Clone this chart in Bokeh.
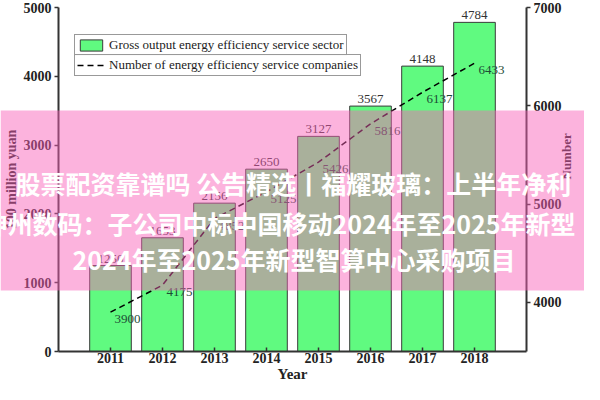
import math
from bokeh.plotting import figure
from bokeh.layouts import column
from bokeh.models import (Range1d, LinearAxis, ColumnDataSource, LabelSet, Legend, LegendItem,
                          FixedTicker)
from bokeh.core.properties import value
from bokeh.embed import file_html
from bokeh.resources import INLINE

years = [2011, 2012, 2013, 2014, 2015, 2016, 2017, 2018]
gross_output = [1250, 1653, 2156, 2650, 3127, 3567, 4148, 4784]
companies = [3900, 4175, 4852, 5125, 5426, 5816, 6137, 6433]
left_ticks = [0, 1000, 2000, 3000, 4000, 5000]
right_ticks = [4000, 5000, 6000, 7000]
bar_name = "Gross output energy efficiency service sector"
line_name = "Number of energy efficiency service companies"
overlay_lines = [
    "股票配资靠谱吗 公告精选丨福耀玻璃：上半年净利",
    "神州数码：子公司中标中国移动2024年至2025年新型",
    "2024年至2025年新型智算中心采购项目",
]

SERIF = "Liberation Serif"
CJK = "Noto Sans CJK SC"
W, H = 584, 384

src = ColumnDataSource(dict(
    year=years, gross=gross_output, comp=companies,
    gross_txt=[str(v) for v in gross_output],
    comp_txt=[str(v) for v in companies],
))

p = figure(width=W, height=H, output_backend="svg", toolbar_location=None,
           x_range=Range1d(2010, 2019), y_range=Range1d(0, 5000),
           min_border_left=50, min_border_right=40, min_border_top=7, min_border_bottom=30)
p.outline_line_color = None
p.grid.visible = False
p.background_fill_color = "white"
p.border_fill_color = "white"

p.extra_y_ranges = {"num": Range1d(3500, 7000)}

bars = p.vbar(x="year", top="gross", width=0.8, source=src,
              fill_color="#60FA80", line_color="#3a3a3a", line_width=1)
line = p.line(x="year", y="comp", source=src, y_range_name="num",
              line_color="black", line_width=1.5, line_dash="6 4")

p.add_layout(LabelSet(x="year", y="gross", text="gross_txt", source=src,
                      text_align="center", text_baseline="bottom", y_offset=3,
                      text_font=value(SERIF), text_font_size="13px", text_color="#333333"))
p.add_layout(LabelSet(x="year", y="comp", text="comp_txt", source=src, y_range_name="num",
                      text_align="left", text_baseline="top", x_offset=4, y_offset=-3,
                      text_font=value(SERIF), text_font_size="13px", text_color="#1d4d36"))

def style_axis(ax):
    ax.axis_line_color = "#333333"
    ax.axis_line_width = 2
    ax.major_tick_line_color = "#333333"
    ax.major_tick_line_width = 1.5
    ax.minor_tick_line_color = None
    ax.major_label_text_font = SERIF
    ax.major_label_text_font_size = "14px"
    ax.major_label_text_font_style = "bold"
    ax.major_label_text_color = "#222222"
    ax.axis_label_text_font = SERIF
    ax.axis_label_text_font_style = "bold"
    ax.axis_label_text_color = "#222222"

yl = p.yaxis[0]
style_axis(yl)
yl.ticker = FixedTicker(ticks=left_ticks)
yl.major_tick_in = 0
yl.major_tick_out = 4
yl.major_label_standoff = 3
yl.axis_label = "100 million yuan"
yl.axis_label_text_font_size = "14px"
yl.axis_label_standoff = 2

xa = p.xaxis[0]
style_axis(xa)
xa.ticker = FixedTicker(ticks=years)
xa.major_tick_in = 4
xa.major_tick_out = 0
xa.major_label_standoff = 1
xa.axis_label = "Year"
xa.axis_label_text_font_size = "15px"
xa.axis_label_standoff = 0

yr = LinearAxis(y_range_name="num", ticker=FixedTicker(ticks=right_ticks))
style_axis(yr)
yr.major_tick_in = 0
yr.major_tick_out = 4
yr.major_label_standoff = 3
yr.axis_label = "Number"
yr.axis_label_text_font_size = "13px"
yr.axis_label_standoff = 2
if hasattr(yr, "axis_label_orientation"):
    yr.axis_label_orientation = math.pi / 2
p.add_layout(yr, "right")

leg_kw = dict(border_line_color="#333333", border_line_width=1, padding=2, spacing=0, margin=0,
              glyph_width=28, glyph_height=14, label_standoff=4, label_height=14,
              label_text_font=SERIF, label_text_font_size="13px", label_text_color="#222222")
leg1 = Legend(items=[LegendItem(label=bar_name, renderers=[bars])], location=(16, 295), **leg_kw)
leg2 = Legend(items=[LegendItem(label=line_name, renderers=[line])], location=(16, 275), **leg_kw)
p.add_layout(leg1, "center")
p.add_layout(leg2, "center")

# transparent overlay figure carrying the pink banner (covers whole canvas)
ov = figure(width=W, height=H, output_backend="svg", toolbar_location=None,
            x_range=Range1d(0, W), y_range=Range1d(H, 0),
            x_axis_location=None, y_axis_location=None,
            min_border=0, margin=(-H, 0, 0, 0))
for fig in (p, ov):
    if hasattr(fig, "frame_align"):
        fig.frame_align = False
ov.styles = {"position": "relative", "z-index": "100"}
ov.outline_line_color = None
ov.grid.visible = False
ov.background_fill_color = None
ov.border_fill_color = None

band_top = [110]
band_bottom = [290]
ov.quad(left=[0], right=[W], top=band_top, bottom=band_bottom,
        fill_color="#F960B7", fill_alpha=0.48, line_color=None)
line_x = [15, -18, 72]
line_y = [182, 222, 258]
ov.text(x=line_x, y=line_y, text=overlay_lines,
        text_font=value(CJK), text_font_size="25px", text_font_style="bold",
        text_color="white", text_align="left", text_baseline="middle")

layout = column(p, ov, spacing=0)
open("out.html", "w").write(file_html(layout, INLINE))
